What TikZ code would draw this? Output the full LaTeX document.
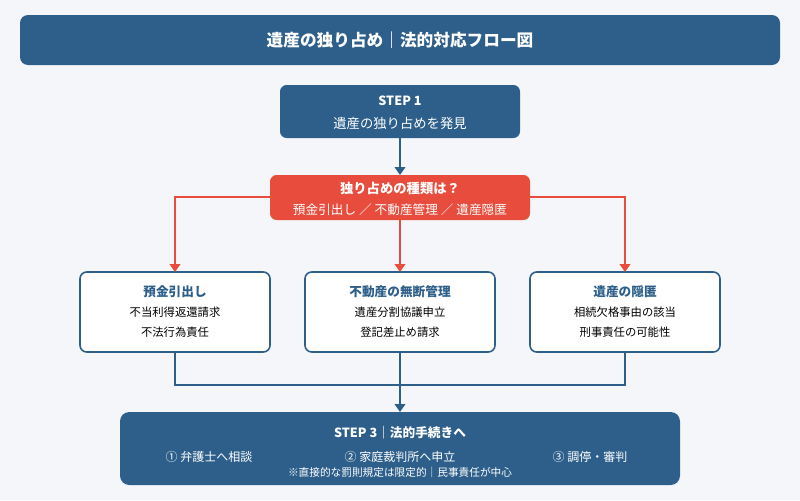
\documentclass[tikz,border=0pt]{standalone}
\usepackage{fontspec}
\setmainfont{Noto Sans CJK JP}
\usetikzlibrary{positioning,arrows.meta}
\definecolor{stepblue}{HTML}{2D5F8A}
\definecolor{alertred}{HTML}{E74C3C}
\definecolor{pagebg}{HTML}{F4F6F9}
\tikzset{
  box/.style={draw=stepblue, line width=1.2pt, fill=white, rounded corners=5pt},
  solid box/.style={fill=stepblue, rounded corners=6pt},
  link/.style={draw=stepblue, line width=1.3pt},
  red link/.style={draw=alertred, line width=1.3pt},
  tip/.style={-{Triangle[length=6pt,width=8pt]}}
}
\begin{document}
\begin{tikzpicture}[x=0.75pt,y=-0.75pt]
        % Background
        \fill[pagebg] (0,0) rectangle (800,500);

        % Title
        \fill[solid box] (20,15) rectangle (780,65);
        \node[text=white,font=\bfseries\fontsize{12.5}{15}\selectfont] (title) at (400,40) {遺産の独り占め｜法的対応フロー図};

        % Step 1
        \fill[solid box,rounded corners=5pt] (280,85) rectangle (520,138);
        \coordinate (s1) at (400,138);
        \node[text=white,font=\bfseries\fontsize{9.5}{11}\selectfont] (s1a) at (400,101) {STEP 1};
        \node[text=white,font=\fontsize{10}{12}\selectfont] (s1b) at (400,123) {遺産の独り占めを発見};

        % Question
        \fill[alertred,rounded corners=5pt] (270,175) rectangle (530,220);
        \coordinate (qt) at (400,175);
        \coordinate (qb) at (400,220);
        \coordinate (ql) at (270,197);
        \coordinate (qr) at (530,197);
        \node[text=white,font=\bfseries\fontsize{10}{12}\selectfont] (qa) at (400,188) {独り占めの種類は？};
        \node[text=white,font=\fontsize{9.5}{11}\selectfont] (qb2) at (400,210) {預金引出し ／ 不動産管理 ／ 遺産隠匿};
        \draw[link,tip] (s1) -- (qt);

        % Cases
        \foreach \cx/\name/\ttl/\la/\lb in {175/ca/預金引出し/不当利得返還請求/不法行為責任,
                                            400/cb/不動産の無断管理/遺産分割協議申立/登記差止め請求,
                                            625/cc/遺産の隠匿/相続欠格事由の該当/刑事責任の可能性}
        {
            \draw[box] (\cx-95,272) rectangle (\cx+95,352);
            \coordinate (\name t) at (\cx,272);
            \coordinate (\name b) at (\cx,352);
            \node[text=stepblue,font=\bfseries\fontsize{9.5}{11}\selectfont] at (\cx,292) {\ttl};
            \node[font=\fontsize{8.5}{10}\selectfont] at (\cx,312) {\la};
            \node[font=\fontsize{8.5}{10}\selectfont] at (\cx,332) {\lb};
        }
        \draw[red link,tip] (ql) -| (cat);
        \draw[red link,tip] (qr) -| (cct);
        \draw[red link,tip] (qb) -- (cbt);

        % Merge
        \coordinate (ml) at (175,385);
        \coordinate (mr) at (625,385);
        \coordinate (s3) at (400,412);
        \draw[link] (cab) -- (ml) -- (mr) -- (ccb);
        \draw[link,tip] (cbb) -- (s3);

        % Step 3
        \fill[solid box,rounded corners=7pt] (120,412) rectangle (680,485);
        \node[text=white,font=\bfseries\fontsize{9.5}{11}\selectfont] (s3a) at (400,433) {STEP 3｜法的手続きへ};
        \node[text=white,font=\fontsize{9}{11}\selectfont] (s3b) at (209,457) {① 弁護士へ相談};
        \node[text=white,font=\fontsize{9}{11}\selectfont] (s3c) at (400,457) {② 家庭裁判所へ申立};
        \node[text=white,font=\fontsize{9}{11}\selectfont] (s3d) at (590,457) {③ 調停・審判};
        \node[text=white,font=\fontsize{8}{10}\selectfont] (s3e) at (400,472) {※直接的な罰則規定は限定的｜民事責任が中心};
\end{tikzpicture}
\end{document}
